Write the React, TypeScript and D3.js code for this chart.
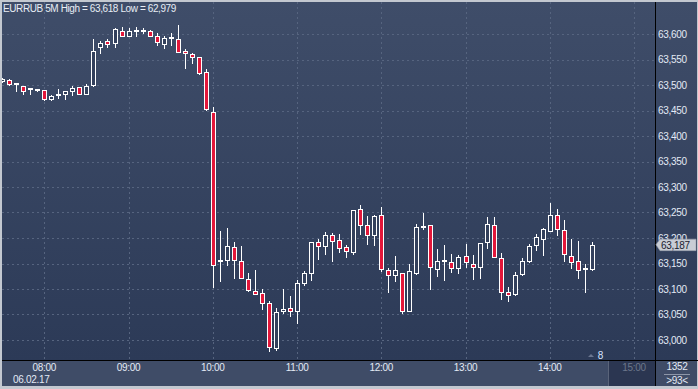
import React from "react";
import * as d3 from "d3";

// ---- Data (EURRUB 5M, 06.02.17, 07:30 .. 14:30) ----
const startTime = new Date(2017, 1, 6, 7, 30);
const opens = [
  63508, 63510, 63501, 63498, 63492, 63491, 63490, 63473, 63481, 63483,
  63489, 63497, 63482, 63500, 63574, 63587, 63582, 63606, 63597, 63606,
  63606, 63605, 63597, 63580, 63593, 63590, 63566, 63561, 63554, 63525,
  63448, 63154, 63156, 63182, 63154, 63119, 63097, 63092, 63072, 62984,
  63056, 63062, 63057, 63112, 63132, 63193, 63184, 63206, 63197, 63182,
  63172, 63256, 63225, 63205, 63245, 63137, 63127, 63131, 63056, 63132,
  63222, 63225, 63139, 63154, 63152, 63141, 63164, 63150, 63144, 63192,
  63225, 63160, 63095, 63090, 63129, 63154, 63186, 63199, 63213, 63246,
  63215, 63164, 63154, 63140, 63139,
];
const highs = [
  63514, 63512, 63502, 63499, 63493, 63493, 63491, 63480, 63493, 63488,
  63499, 63497, 63502, 63590, 63587, 63590, 63612, 63614, 63612, 63613,
  63611, 63608, 63601, 63596, 63601, 63618, 63571, 63562, 63554, 63531,
  63456, 63214, 63220, 63192, 63184, 63131, 63137, 63100, 63076, 63062,
  63100, 63087, 63118, 63135, 63193, 63198, 63212, 63209, 63207, 63186,
  63254, 63264, 63243, 63245, 63260, 63141, 63164, 63131, 63150, 63227,
  63249, 63225, 63178, 63186, 63169, 63166, 63188, 63166, 63190, 63241,
  63241, 63171, 63103, 63133, 63160, 63188, 63207, 63219, 63268, 63256,
  63235, 63199, 63195, 63150, 63193,
];
const lows = [
  63506, 63500, 63488, 63482, 63482, 63489, 63471, 63471, 63475, 63473,
  63480, 63482, 63482, 63499, 63563, 63575, 63575, 63597, 63597, 63597,
  63601, 63597, 63579, 63572, 63578, 63564, 63534, 63544, 63522, 63451,
  63103, 63116, 63147, 63122, 63121, 63097, 63090, 63061, 62979, 62980,
  63052, 63047, 63034, 63108, 63118, 63159, 63169, 63155, 63172, 63163,
  63168, 63208, 63188, 63187, 63136, 63095, 63116, 63053, 63056, 63129,
  63218, 63100, 63126, 63118, 63134, 63131, 63144, 63119, 63121, 63180,
  63162, 63080, 63077, 63088, 63127, 63152, 63176, 63166, 63213, 63205,
  63154, 63142, 63121, 63095, 63137,
];
const closes = [
  63512, 63501, 63502, 63489, 63492, 63491, 63472, 63478, 63481, 63488,
  63495, 63482, 63499, 63567, 63582, 63580, 63609, 63597, 63606, 63606,
  63606, 63597, 63584, 63593, 63593, 63565, 63562, 63555, 63523, 63452,
  63148, 63154, 63184, 63156, 63121, 63099, 63090, 63072, 62987, 63054,
  63060, 63056, 63112, 63131, 63193, 63185, 63205, 63195, 63180, 63174,
  63254, 63225, 63205, 63243, 63139, 63127, 63137, 63056, 63135, 63221,
  63222, 63144, 63154, 63154, 63141, 63162, 63152, 63144, 63190, 63227,
  63162, 63095, 63088, 63127, 63154, 63184, 63201, 63217, 63246, 63217,
  63168, 63152, 63137, 63140, 63187,
];
const yTicks = [63000, 63050, 63100, 63150, 63200, 63250, 63300, 63350, 63400, 63450, 63500, 63550, 63600];
const hourTicks = [8, 9, 10, 11, 12, 13, 14, 15];
const titleText = "EURRUB 5M High = 63,618 Low = 62,979";
const dateLabel = "06.02.17";
const lastPrice = 63187;
const footerTop = "1352";
const footerBottom = ">93<";
const markerLabel = "8";

const W = 698;
const H = 389;
const plotL = 2;
const plotR = 655;
const plotT = 2;
const plotB = 360;

function priceLabel(v: number) {
  return (v / 1000).toFixed(3).replace(".", ",");
}

export default function App() {
  const y = d3.scaleLinear().domain([63000, 63600]).range([340, 34]);
  const x = d3
    .scaleTime()
    .domain([new Date(2017, 1, 6, 8, 0), new Date(2017, 1, 6, 15, 0)])
    .range([44.3, 634]);

  const candles = opens.map((o, i) => ({
    t: d3.timeMinute.offset(startTime, i * 5),
    o,
    h: highs[i],
    l: lows[i],
    c: closes[i],
  }));

  const font = "'Liberation Sans', Arial, sans-serif";
  const textCol = "#e3eaf5";
  const gridCol = "#56647f";
  const lastY = y(lastPrice);

  return (
    <svg
      width={W}
      height={H}
      style={{ position: "absolute", left: 0, top: 0, display: "block" }}
      fontFamily={font}
    >
      <defs>
        <linearGradient id="bg" x1="0" y1="0" x2="0" y2="1">
          <stop offset="0" stopColor="#3f4d69" />
          <stop offset="1" stopColor="#2c3a57" />
        </linearGradient>
        <clipPath id="plotClip">
          <rect x={plotL} y={plotT} width={plotR - plotL} height={plotB - plotT} />
        </clipPath>
      </defs>
      {/* outer frame */}
      <rect x={0} y={0} width={W} height={H} fill="#c3c8d0" />
      <rect x={plotL} y={plotT} width={W - 1 - plotL} height={plotB - plotT} fill="url(#bg)" />
      {/* bottom axis band */}
      <rect x={plotL} y={plotB} width={W - 1 - plotL} height={386 - plotB} fill="#3f4c67" />
      <rect x={608} y={plotB + 1} width={plotR - 608} height={386 - plotB - 1} fill="#2b3651" />
      <line x1={608.5} x2={608.5} y1={plotB + 1} y2={386} stroke="#5a647a" />

      {/* grid */}
      <g stroke={gridCol} strokeDasharray="2,3" strokeWidth={1}>
        {yTicks.map((v) => (
          <line key={v} x1={plotL} x2={plotR} y1={Math.round(y(v)) + 0.5} y2={Math.round(y(v)) + 0.5} />
        ))}
        {hourTicks.map((h) => {
          const xx = Math.round(x(new Date(2017, 1, 6, h, 0))) + 0.5;
          return <line key={h} x1={xx} x2={xx} y1={plotT} y2={plotB} />;
        })}
      </g>

      {/* candles */}
      <g clipPath="url(#plotClip)">
        {candles.map((d, i) => {
          const n = Math.round(x(d.t));
          const cx = n + 0.5;
          const yo = y(d.o);
          const yc = y(d.c);
          const top = Math.round(Math.min(yo, yc)) + 0.5;
          const bot = Math.round(Math.max(yo, yc)) + 0.5;
          const bear = d.c < d.o;
          const doji = bot - top < 1.5;
          return (
            <g key={i}>
              <line
                x1={cx}
                x2={cx}
                y1={Math.round(y(d.h))}
                y2={Math.round(y(d.l)) + 1}
                stroke="#ffffff"
                strokeWidth={1}
              />
              {doji ? (
                <rect x={n - 2} y={Math.round(yc) - 1} width={5} height={2} fill="#ffffff" />
              ) : (
                <rect
                  x={n - 1.5}
                  y={top}
                  width={4}
                  height={bot - top}
                  fill={bear ? "#e3173a" : "#33405c"}
                  stroke="#ffffff"
                  strokeWidth={1}
                />
              )}
            </g>
          );
        })}
      </g>

      {/* axis lines */}
      <line x1={plotL} x2={W} y1={plotB + 0.5} y2={plotB + 0.5} stroke="#000000" />
      <line x1={plotR + 0.5} x2={plotR + 0.5} y1={plotT} y2={386} stroke="#000000" />

      {/* y labels */}
      <g fill={textCol} fontSize={10} letterSpacing={-0.3}>
        {yTicks.map((v) => (
          <text key={v} x={658} y={y(v) + 3.6}>
            {priceLabel(v)}
          </text>
        ))}
      </g>

      {/* last price tag */}
      <path
        d={`M656,${lastY} L660,${lastY - 5.5} L696,${lastY - 5.5} L696,${lastY + 6} L660,${lastY + 6} Z`}
        fill="#c9cdd5"
        stroke="#9aa0ab"
        strokeWidth={0.6}
      />
      <text x={661} y={lastY + 4} fill="#1b2130" fontSize={10} letterSpacing={-0.3}>
        {priceLabel(lastPrice)}
      </text>

      {/* x labels */}
      <g fontSize={10} letterSpacing={-0.3} textAnchor="middle">
        {hourTicks.map((h) => (
          <text
            key={h}
            x={x(new Date(2017, 1, 6, h, 0))}
            y={371}
            fill={h === 15 ? "#6c778b" : textCol}
          >
            {d3.timeFormat("%H:%M")(new Date(2017, 1, 6, h, 0))}
          </text>
        ))}
      </g>
      <text x={13} y={383} fill={textCol} fontSize={10} letterSpacing={-0.3}>
        {dateLabel}
      </text>

      {/* marker */}
      <path d="M588,357 L591,354 L594,357 Z" fill="#6b7690" />
      <text x={600.5} y={359} fill="#d6e4ff" fontSize={10} textAnchor="middle">
        {markerLabel}
      </text>

      {/* footer box */}
      <text x={677} y={370} fill={textCol} fontSize={10} letterSpacing={-0.3} textAnchor="middle">
        {footerTop}
      </text>
      <line x1={664} x2={690} y1={374.5} y2={374.5} stroke="#8d96a8" />
      <text x={677} y={384} fill={textCol} fontSize={10} letterSpacing={-0.3} textAnchor="middle">
        {footerBottom}
      </text>

      {/* title */}
      <text x={3} y={12} fill="#e8edf5" fontSize={10} letterSpacing={-0.4}>
        {titleText}
      </text>
    </svg>
  );
}
